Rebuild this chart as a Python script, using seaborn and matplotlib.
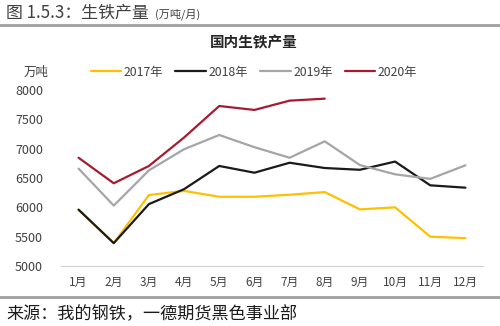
import matplotlib
matplotlib.use("Agg")
import matplotlib.pyplot as plt
import seaborn as sns
import pandas as pd
from matplotlib.lines import Line2D

months = ["1月", "2月", "3月", "4月", "5月", "6月", "7月", "8月", "9月", "10月", "11月", "12月"]
y2017 = [5960, 5390, 6210, 6280, 6180, 6180, 6215, 6260, 5965, 6000, 5500, 5475]
y2018 = [5960, 5390, 6055, 6310, 6705, 6590, 6760, 6670, 6640, 6780, 6375, 6335]
y2019 = [6660, 6030, 6630, 6990, 7233, 7025, 6845, 7125, 6720, 6563, 6485, 6716]
y2020 = [6845, 6410, 6705, 7190, 7727, 7660, 7818, 7852]
series_names = ["2017年", "2018年", "2019年", "2020年"]
series_colors = ["#FFC000", "#1A1A1A", "#A5A5A5", "#A51C30"]
yticks = [5000, 5500, 6000, 6500, 7000, 7500, 8000]

rows = []
for name, vals in zip(series_names, [y2017, y2018, y2019, y2020]):
    for i, v in enumerate(vals):
        rows.append({"month": months[i], "idx": i, "value": v, "year": name})
df = pd.DataFrame(rows)

sns.set_theme(style="white")
plt.rcParams["font.family"] = ["Noto Sans CJK SC", "DejaVu Sans"]

fig = plt.figure(figsize=(5.0, 3.26), dpi=100)
ax = fig.add_axes([0.122, 0.184, 0.844, 0.540])

sns.lineplot(data=df, x="idx", y="value", hue="year", hue_order=series_names,
             palette=series_colors, linewidth=1.6, ax=ax, legend=False, sort=False)

ax.set_xlim(-0.5, 11.5)
ax.set_ylim(5000, 8000)
ax.set_yticks(yticks)
ax.set_yticklabels([str(v) for v in yticks], fontsize=9, color="#404040")
ax.set_xticks(range(12))
ax.set_xticklabels(months, fontsize=8.5, color="#404040")
ax.set_xticks([i - 0.5 for i in range(13)], minor=True)
ax.tick_params(axis="x", which="major", length=0, pad=7)
ax.tick_params(axis="x", which="minor", length=4, color="#D0D0D0", width=0.8, direction="out")
ax.tick_params(axis="y", length=0, pad=13)
for s in ["top", "right", "left"]:
    ax.spines[s].set_visible(False)
ax.spines["bottom"].set_color("#D0D0D0")
ax.spines["bottom"].set_linewidth(0.8)
ax.set_xlabel("")
ax.set_ylabel("")

# unit label above the value axis
fig.text(0.072, 0.779, "万吨", fontsize=9, color="#404040", ha="center", va="center")

# legend row
handles = [Line2D([0], [0], color=c, lw=1.6) for c in series_colors]
fig.legend(handles, series_names, loc="center", bbox_to_anchor=(0.508, 0.779), ncol=4,
           frameon=False, fontsize=8.8, handlelength=2.5, handletextpad=0.2, columnspacing=1.0,
           labelcolor="#404040")

# chart title
fig.text(0.507, 0.871, "国内生铁产量", fontsize=10.5, fontweight="bold", color="#262626",
         ha="center", va="center")

# report heading and separators
fig.text(0.012, 0.962, "图 1.5.3：生铁产量", fontsize=12.2, color="#404040", ha="left", va="center")
fig.text(0.31, 0.957, "(万吨/月)", fontsize=8, color="#404040", ha="left", va="center")
fig.add_artist(Line2D([0, 1], [0.924, 0.924], transform=fig.transFigure, color="#A0A0A0", lw=2))
fig.add_artist(Line2D([0, 1], [0.089, 0.089], transform=fig.transFigure, color="#A0A0A0", lw=2))
fig.text(0.012, 0.037, "来源：我的钢铁，一德期货黑色事业部", fontsize=12.3, color="#1A1A1A",
         ha="left", va="center")

fig.savefig("out.png", dpi=100)
